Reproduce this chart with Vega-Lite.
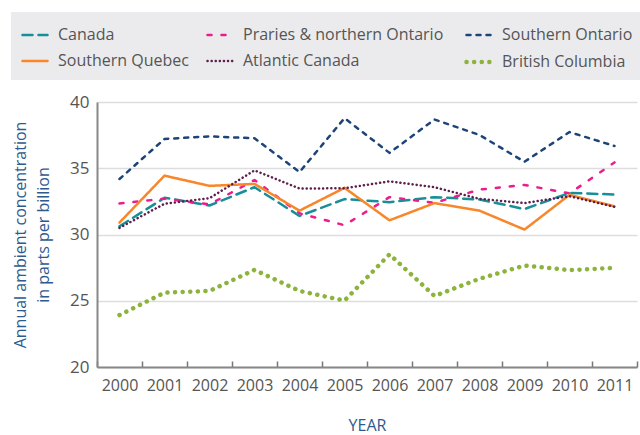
{
  "$schema": "https://vega.github.io/schema/vega-lite/v6.json",
  "width": 540,
  "height": 265,
  "autosize": {"type": "none"},
  "padding": {"left": 97, "top": 102, "right": 3, "bottom": 68},
  "background": "white",
  "config": {
    "font": "Open Sans",
    "view": {"stroke": null}
  },
  "data": {
    "values": [
      {"year": "2000", "region": "Canada", "value": 30.62},
      {"year": "2001", "region": "Canada", "value": 32.77},
      {"year": "2002", "region": "Canada", "value": 32.19},
      {"year": "2003", "region": "Canada", "value": 33.57},
      {"year": "2004", "region": "Canada", "value": 31.40},
      {"year": "2005", "region": "Canada", "value": 32.67},
      {"year": "2006", "region": "Canada", "value": 32.44},
      {"year": "2007", "region": "Canada", "value": 32.82},
      {"year": "2008", "region": "Canada", "value": 32.64},
      {"year": "2009", "region": "Canada", "value": 31.92},
      {"year": "2010", "region": "Canada", "value": 33.14},
      {"year": "2011", "region": "Canada", "value": 33.02},
      {"year": "2000", "region": "Praries & northern Ontario", "value": 32.34},
      {"year": "2001", "region": "Praries & northern Ontario", "value": 32.70},
      {"year": "2002", "region": "Praries & northern Ontario", "value": 32.27},
      {"year": "2003", "region": "Praries & northern Ontario", "value": 34.11},
      {"year": "2004", "region": "Praries & northern Ontario", "value": 31.60},
      {"year": "2005", "region": "Praries & northern Ontario", "value": 30.70},
      {"year": "2006", "region": "Praries & northern Ontario", "value": 32.82},
      {"year": "2007", "region": "Praries & northern Ontario", "value": 32.39},
      {"year": "2008", "region": "Praries & northern Ontario", "value": 33.39},
      {"year": "2009", "region": "Praries & northern Ontario", "value": 33.74},
      {"year": "2010", "region": "Praries & northern Ontario", "value": 33.10},
      {"year": "2011", "region": "Praries & northern Ontario", "value": 35.44},
      {"year": "2000", "region": "Southern Ontario", "value": 34.19},
      {"year": "2001", "region": "Southern Ontario", "value": 37.21},
      {"year": "2002", "region": "Southern Ontario", "value": 37.41},
      {"year": "2003", "region": "Southern Ontario", "value": 37.26},
      {"year": "2004", "region": "Southern Ontario", "value": 34.71},
      {"year": "2005", "region": "Southern Ontario", "value": 38.78},
      {"year": "2006", "region": "Southern Ontario", "value": 36.16},
      {"year": "2007", "region": "Southern Ontario", "value": 38.68},
      {"year": "2008", "region": "Southern Ontario", "value": 37.51},
      {"year": "2009", "region": "Southern Ontario", "value": 35.49},
      {"year": "2010", "region": "Southern Ontario", "value": 37.73},
      {"year": "2011", "region": "Southern Ontario", "value": 36.68},
      {"year": "2000", "region": "Southern Quebec", "value": 30.90},
      {"year": "2001", "region": "Southern Quebec", "value": 34.44},
      {"year": "2002", "region": "Southern Quebec", "value": 33.67},
      {"year": "2003", "region": "Southern Quebec", "value": 33.82},
      {"year": "2004", "region": "Southern Quebec", "value": 31.80},
      {"year": "2005", "region": "Southern Quebec", "value": 33.52},
      {"year": "2006", "region": "Southern Quebec", "value": 31.07},
      {"year": "2007", "region": "Southern Quebec", "value": 32.37},
      {"year": "2008", "region": "Southern Quebec", "value": 31.80},
      {"year": "2009", "region": "Southern Quebec", "value": 30.37},
      {"year": "2010", "region": "Southern Quebec", "value": 32.99},
      {"year": "2011", "region": "Southern Quebec", "value": 32.12},
      {"year": "2000", "region": "Atlantic Canada", "value": 30.50},
      {"year": "2001", "region": "Atlantic Canada", "value": 32.32},
      {"year": "2002", "region": "Atlantic Canada", "value": 32.74},
      {"year": "2003", "region": "Atlantic Canada", "value": 34.84},
      {"year": "2004", "region": "Atlantic Canada", "value": 33.47},
      {"year": "2005", "region": "Atlantic Canada", "value": 33.49},
      {"year": "2006", "region": "Atlantic Canada", "value": 34.01},
      {"year": "2007", "region": "Atlantic Canada", "value": 33.57},
      {"year": "2008", "region": "Atlantic Canada", "value": 32.69},
      {"year": "2009", "region": "Atlantic Canada", "value": 32.37},
      {"year": "2010", "region": "Atlantic Canada", "value": 32.89},
      {"year": "2011", "region": "Atlantic Canada", "value": 32.09},
      {"year": "2000", "region": "British Columbia", "value": 23.92},
      {"year": "2001", "region": "British Columbia", "value": 25.61},
      {"year": "2002", "region": "British Columbia", "value": 25.74},
      {"year": "2003", "region": "British Columbia", "value": 27.33},
      {"year": "2004", "region": "British Columbia", "value": 25.74},
      {"year": "2005", "region": "British Columbia", "value": 25.01},
      {"year": "2006", "region": "British Columbia", "value": 28.50},
      {"year": "2007", "region": "British Columbia", "value": 25.36},
      {"year": "2008", "region": "British Columbia", "value": 26.66},
      {"year": "2009", "region": "British Columbia", "value": 27.66},
      {"year": "2010", "region": "British Columbia", "value": 27.31},
      {"year": "2011", "region": "British Columbia", "value": 27.48}
    ]
  },
  "mark": {"type": "line", "strokeCap": "round", "strokeJoin": "round"},
  "encoding": {
    "x": {
      "field": "year",
      "type": "ordinal",
      "scale": {"type": "band", "paddingInner": 0, "paddingOuter": 0},
      "axis": {
        "title": "YEAR",
        "titleColor": "#2e5b8e",
        "titleFontSize": 16,
        "titleFontWeight": "normal",
        "titlePadding": 24,
        "labelAngle": 0,
        "labelColor": "#555555",
        "labelFontSize": 16,
        "labelPadding": 16,
        "tickBand": "extent",
        "tickSize": -6,
        "tickColor": "#777777",
        "tickWidth": 1.5,
        "domainColor": "#888888",
        "domainWidth": 2,
        "grid": false
      }
    },
    "y": {
      "field": "value",
      "type": "quantitative",
      "scale": {"domain": [20, 40], "nice": false, "zero": false},
      "axis": {
        "title": ["Annual ambient concentration", "in parts per billion"],
        "titleColor": "#2e5b8e",
        "titleFontSize": 16,
        "titleFontWeight": "normal",
        "titleLineHeight": 23,
        "titlePadding": 18,
        "values": [20, 25, 30, 35, 40],
        "labelColor": "#555555",
        "labelFontSize": 17,
        "labelPadding": 8,
        "ticks": false,
        "domainColor": "#888888",
        "domainWidth": 2,
        "gridColor": "#dddddd",
        "gridWidth": 1.5
      }
    },
    "color": {
      "field": "region",
      "type": "nominal",
      "scale": {
        "domain": ["Canada", "Praries & northern Ontario", "Southern Ontario", "Southern Quebec", "Atlantic Canada", "British Columbia"],
        "range": ["#178f98", "#ec1c8c", "#1d4479", "#f7872a", "#5e1f4d", "#8cb33c"]
      },
      "legend": {
        "title": null,
        "orient": "none",
        "legendX": -86,
        "legendY": -90,
        "direction": "horizontal",
        "columns": 3,
        "fillColor": "#ebebed",
        "padding": 9,
        "rowPadding": 4,
        "columnPadding": 13,
        "symbolType": "stroke",
        "symbolSize": 625,
        "symbolStrokeWidth": 2.8,
        "labelFontSize": 16,
        "labelColor": "#555555",
        "labelOffset": 8,
        "labelLimit": 300,
        "encode": {"symbols": {"update": {"strokeCap": {"value": "round"}}}}
      }
    },
    "strokeDash": {
      "field": "region",
      "type": "nominal",
      "scale": {
        "domain": ["Canada", "Praries & northern Ontario", "Southern Ontario", "Southern Quebec", "Atlantic Canada", "British Columbia"],
        "range": [[10, 6], [4, 10], [4, 6], [1, 0], [0.1, 4], [0.1, 7.5]]
      }
    },
    "strokeWidth": {
      "field": "region",
      "type": "nominal",
      "scale": {
        "type": "ordinal",
        "domain": ["Canada", "Praries & northern Ontario", "Southern Ontario", "Southern Quebec", "Atlantic Canada", "British Columbia"],
        "range": [2.5, 2.5, 2.5, 2.5, 2.5, 4.5]
      }
    }
  }
}
